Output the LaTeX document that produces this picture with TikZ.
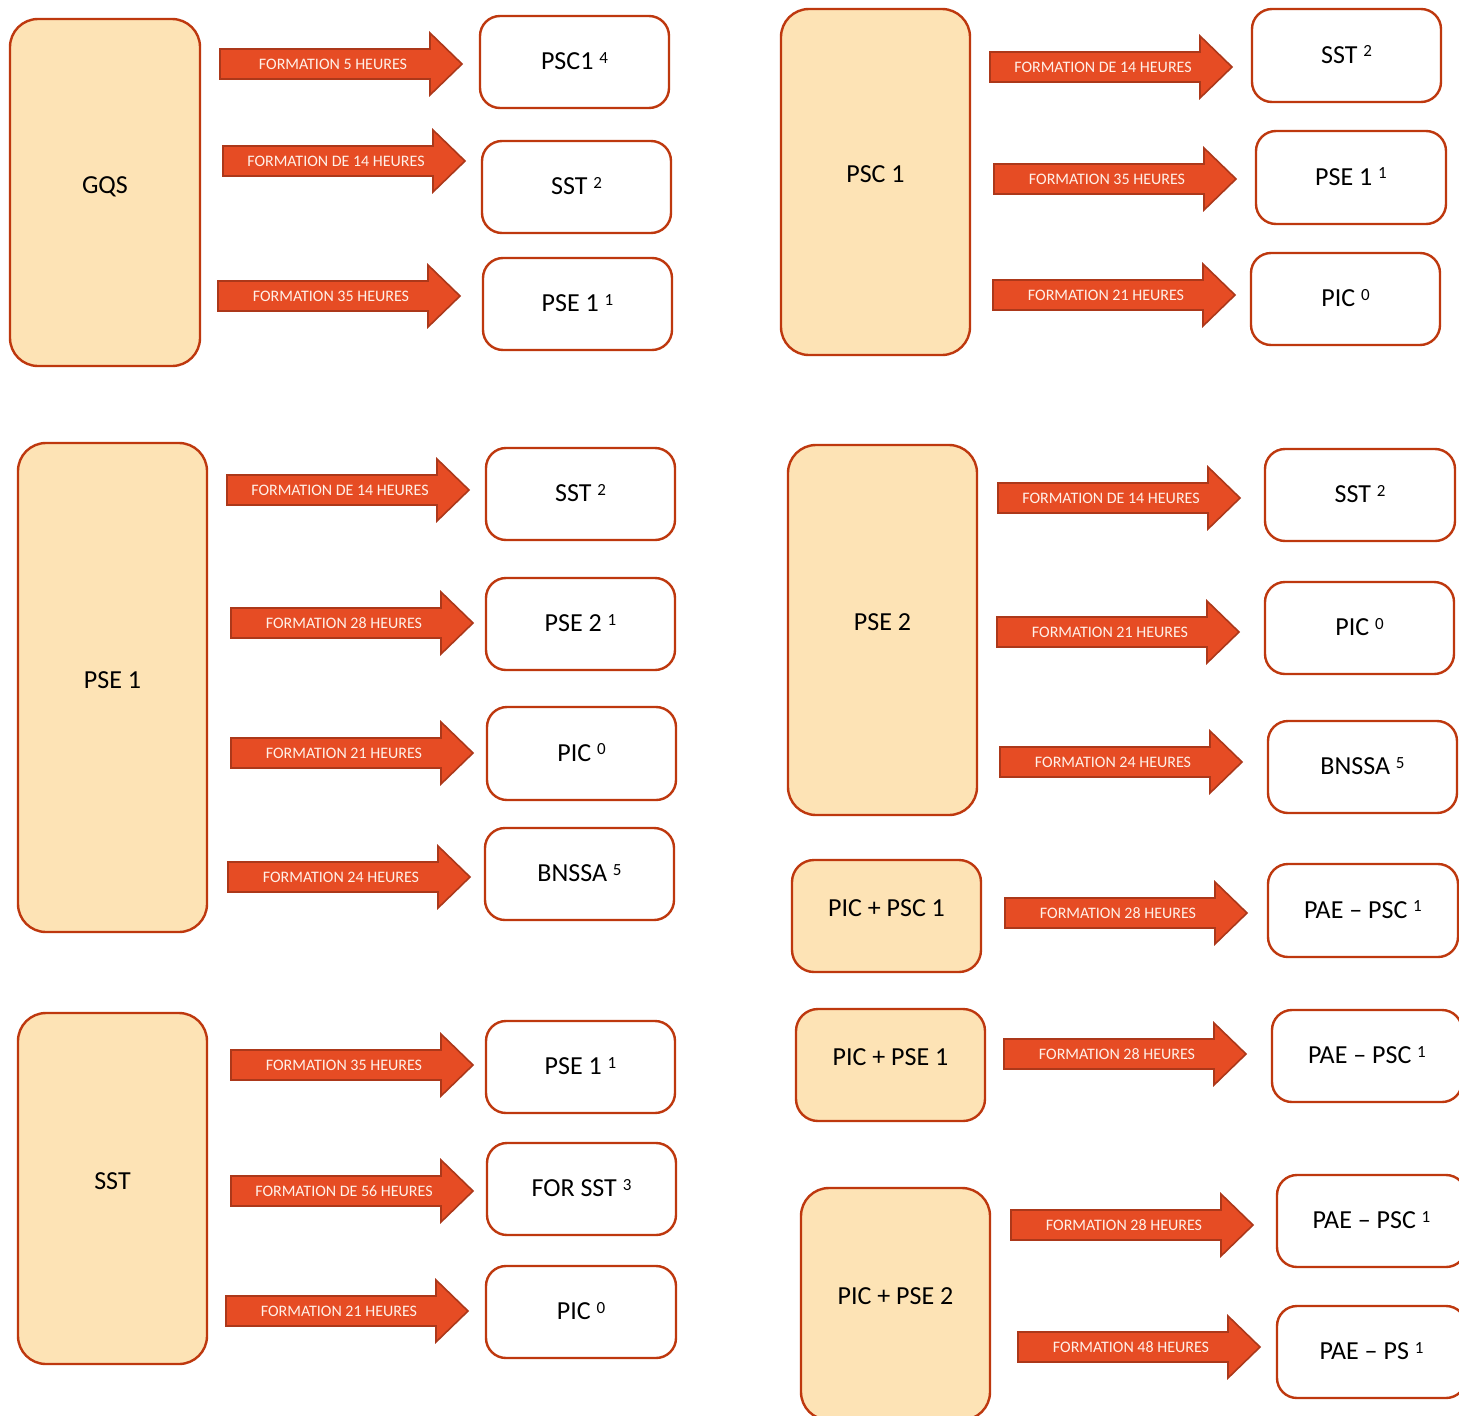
\documentclass[tikz,border=0pt]{standalone}
\usepackage{fontspec}
\setmainfont{Carlito}
\definecolor{peach}{RGB}{253,227,181}
\definecolor{bord}{RGB}{190,56,14}
\definecolor{arrowc}{RGB}{230,76,36}
\definecolor{arrowb}{RGB}{172,56,26}
\definecolor{atext}{RGB}{255,240,232}
\newcommand\supr[1]{\raisebox{6.5pt}{\fontsize{17}{17}\selectfont #1}}
\newcommand\bx[7]{%
  \pgfmathsetmacro\bxw{#5-#3}\pgfmathsetmacro\bxh{#6-#4}%
  \pgfmathsetmacro\bxx{(#3+#5)/2}\pgfmathsetmacro\bxy{(#4+#6)/2}%
  \node[#1, minimum width=\bxw pt, minimum height=\bxh pt] (#2) at (\bxx,\bxy) {#7};}
\newcommand\farr[4]{%
  \draw[arr] (#2,#3-15) -- (#2+210,#3-15) -- (#2+210,#3-31) -- (#2+242,#3)
     -- (#2+210,#3+31) -- (#2+210,#3+15) -- (#2,#3+15) -- cycle;
  \node[atxt] (#1) at (#2+113,#3) {#4};}
\begin{document}
\begin{tikzpicture}[x=1pt,y=-1pt,
  src/.style={draw=bord, fill=peach, line width=2.4pt, rounded corners=28pt, inner sep=0pt,
     font=\fontsize{26}{30}\selectfont, text height=17pt, text depth=16pt},
  srcs/.style={src, rounded corners=22pt},
  dst/.style={draw=bord, fill=white, line width=2.4pt, rounded corners=20pt, inner sep=0pt,
     font=\fontsize{26}{30}\selectfont, text height=17pt, text depth=2pt},
  arr/.style={fill=arrowc, draw=arrowb, line width=1.6pt, line join=miter},
  atxt/.style={font=\fontsize{16}{18}\selectfont, text=atext, inner sep=0pt, text height=10pt, text depth=0pt}]
\useasboundingbox (0,0) rectangle (1459,1416);
\fill[white] (0,0) rectangle (1459,1416);
\clip (0,0) rectangle (1459,1416);
% source boxes
\bx{src}{gqs}{10}{19}{200}{366}{GQS}
\bx{src}{psc}{781}{9}{970}{355}{PSC 1}
\bx{src}{pseA}{18}{443}{207}{932}{PSE 1}
\bx{src}{pseB}{788}{445}{977}{815}{PSE 2}
\bx{srcs}{picpsc}{792}{860}{981}{972}{PIC + PSC 1}
\bx{srcs}{picpseA}{796}{1009}{985}{1121}{PIC + PSE 1}
\bx{src}{sst}{18}{1013}{207}{1364}{SST}
\bx{src}{picpseB}{801}{1188}{990}{1420}{PIC + PSE 2}
% target boxes
\bx{dst}{g1}{480}{16}{669}{108}{PSC1 \supr{4}}
\bx{dst}{g2}{482}{141}{671}{233}{SST \supr{2}}
\bx{dst}{g3}{483}{258}{672}{350}{PSE 1 \supr{1}}
\bx{dst}{p1}{1252}{9}{1441}{102}{SST \supr{2}}
\bx{dst}{p2}{1256}{131}{1446}{224}{PSE 1 \supr{1}}
\bx{dst}{p3}{1251}{253}{1440}{345}{PIC \supr{0}}
\bx{dst}{q1}{486}{448}{675}{540}{SST \supr{2}}
\bx{dst}{q2}{486}{578}{675}{670}{PSE 2 \supr{1}}
\bx{dst}{q3}{487}{707}{676}{800}{PIC \supr{0}}
\bx{dst}{q4}{485}{828}{674}{920}{BNSSA \supr{5}}
\bx{dst}{r1}{1265}{449}{1455}{541}{SST \supr{2}}
\bx{dst}{r2}{1265}{582}{1454}{674}{PIC \supr{0}}
\bx{dst}{r3}{1268}{721}{1457}{813}{BNSSA \supr{5}}
\bx{dst}{c1}{1268}{864}{1458}{957}{PAE – PSC \supr{1}}
\bx{dst}{d1}{1272}{1010}{1462}{1102}{PAE – PSC \supr{1}}
\bx{dst}{s1}{486}{1021}{675}{1113}{PSE 1 \supr{1}}
\bx{dst}{s2}{487}{1143}{676}{1235}{FOR SST \supr{3}}
\bx{dst}{s3}{486}{1266}{676}{1358}{PIC \supr{0}}
\bx{dst}{e1}{1277}{1175}{1466}{1267}{PAE – PSC \supr{1}}
\bx{dst}{e2}{1277}{1306}{1466}{1398}{PAE – PS \supr{1}}
% arrows
\farr{a1}{220}{64}{FORMATION 5 HEURES}
\farr{a2}{223}{161}{FORMATION DE 14 HEURES}
\farr{a3}{218}{296}{FORMATION 35 HEURES}
\farr{a4}{990}{67}{FORMATION DE 14 HEURES}
\farr{a5}{994}{179}{FORMATION 35 HEURES}
\farr{a6}{993}{295}{FORMATION 21 HEURES}
\farr{a7}{227}{490}{FORMATION DE 14 HEURES}
\farr{a8}{231}{623}{FORMATION 28 HEURES}
\farr{a9}{231}{753}{FORMATION 21 HEURES}
\farr{a10}{228}{877}{FORMATION 24 HEURES}
\farr{a11}{998}{498}{FORMATION DE 14 HEURES}
\farr{a12}{997}{632}{FORMATION 21 HEURES}
\farr{a13}{1000}{762}{FORMATION 24 HEURES}
\farr{a14}{1005}{913}{FORMATION 28 HEURES}
\farr{a15}{1004}{1054}{FORMATION 28 HEURES}
\farr{a16}{231}{1065}{FORMATION 35 HEURES}
\farr{a17}{231}{1191}{FORMATION DE 56 HEURES}
\farr{a18}{226}{1311}{FORMATION 21 HEURES}
\farr{a19}{1011}{1225}{FORMATION 28 HEURES}
\farr{a20}{1018}{1347}{FORMATION 48 HEURES}
\end{tikzpicture}
\end{document}
